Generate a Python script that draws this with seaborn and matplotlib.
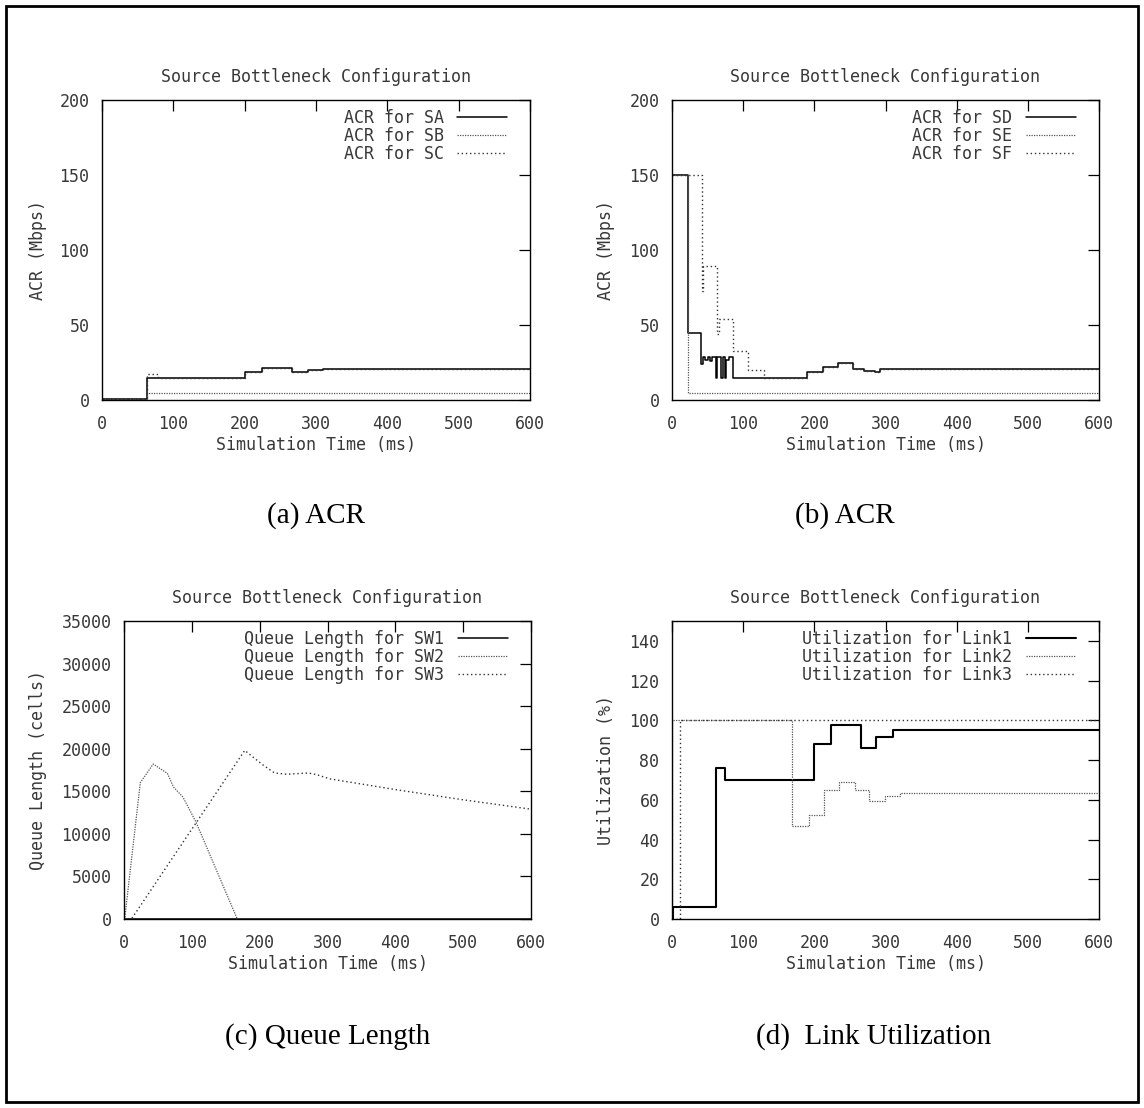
import matplotlib
matplotlib.use("Agg")
import matplotlib.pyplot as plt
import seaborn as sns
import pandas as pd
from matplotlib.patches import Rectangle

# ---------------- data (time in ms) ----------------
# (a) ACR of sources SA, SB, SC (Mbps)
t_sa = [0, 63, 200, 224, 266, 289, 310, 600]
acr_sa = [1, 15, 19, 21.5, 19, 20, 21, 21]
t_sb = [0, 63, 600]
acr_sb = [1, 5, 5]
t_sc = [0, 63, 79, 200, 224, 266, 289, 310, 600]
acr_sc = [1, 17.5, 15, 19, 21.5, 19, 20, 21, 21]

# (b) ACR of sources SD, SE, SF (Mbps)
t_sd = [0, 22, 41, 43, 47, 50, 53, 56, 62, 63.5, 69.5, 71, 74, 75.5, 80, 86,
        190, 212, 233, 254, 270, 285, 292, 600]
acr_sd = [150, 44.5, 24, 29, 27, 29, 26, 29, 15, 29, 15, 29, 15, 27, 29, 15,
          19, 22, 24.5, 21, 19.5, 19, 21, 21]
t_se = [0, 22, 600]
acr_se = [150, 5, 5]
t_sf = [0, 42, 44, 63, 66, 86, 107, 129, 190, 212, 233, 254, 270, 285, 292, 600]
acr_sf = [150, 73, 89.5, 44, 54, 32.5, 19.7, 15, 19, 22, 24.5, 21, 19.5, 19, 21, 21]

# (c) queue length (cells)
t_sw1 = [0, 600]
q_sw1 = [0, 0]
t_sw2 = [0, 1, 24, 43, 64, 73, 87, 106, 167, 600]
q_sw2 = [0, 0, 16000, 18200, 17100, 15500, 14300, 11400, 0, 0]
t_sw3 = [0, 11, 178, 203, 222, 240, 272, 284, 304, 400, 500, 600]
q_sw3 = [0, 0, 19800, 18200, 17150, 17000, 17150, 16950, 16450, 15200, 14000, 12900]

# (d) link utilization (%)
t_l1 = [0, 1, 62, 74.5, 199.5, 223, 265, 287, 311, 600]
u_l1 = [0, 6, 75.9, 70.2, 88, 97.4, 86, 91.8, 95.2, 95.2]
t_l2 = [0, 0.5, 168, 192, 213, 234, 257, 277, 299, 320, 600]
u_l2 = [0, 100, 47, 52.5, 65, 69, 65, 59.5, 62, 63.5, 63.5]
t_l3 = [0, 11, 600]
u_l3 = [0, 100, 100]

# ---------------- styling ----------------
W, H, DPI = 1144, 1108, 100
sns.set_theme(style="white")
plt.rcParams["font.family"] = ["DejaVu Sans Mono"]
plt.rcParams["text.color"] = "#383838"
plt.rcParams["axes.labelcolor"] = "#383838"
plt.rcParams["xtick.color"] = "black"
plt.rcParams["ytick.color"] = "black"
plt.rcParams["xtick.labelcolor"] = "#383838"
plt.rcParams["ytick.labelcolor"] = "#383838"

FS = 12
SOLID = dict(color="black", lw=1.1, ls="-")
DENSE = dict(color="#555555", lw=0.9, ls=(0, (1, 1)))
DOTTED = dict(color="#333333", lw=1.0, ls=(0, (1, 2)))

fig = plt.figure(figsize=(W / DPI, H / DPI), dpi=DPI)


def px_axes(left, top, right, bottom):
    ax = fig.add_axes([left / W, 1 - bottom / H, (right - left) / W, (bottom - top) / H])
    ax._px = (right - left, bottom - top)
    return ax


def panel(ax, series, ylim, yticks, ylabel, ylab_off, step=True):
    for label, t, v, style in series:
        df = pd.DataFrame({"t": t, "v": v})
        kw = dict(style)
        if step:
            kw["drawstyle"] = "steps-post"
        sns.lineplot(data=df, x="t", y="v", ax=ax, label=label, estimator=None,
                     sort=False, **kw)
    wpx, hpx = ax._px
    ax.set_xlim(0, 600)
    ax.set_ylim(*ylim)
    ax.set_xticks(range(0, 601, 100))
    ax.set_yticks(yticks)
    ax.tick_params(direction="in", length=8, width=0.9, top=True, right=True,
                   labelsize=FS, pad=9)
    ax.tick_params(axis="x", pad=11)
    for s in ax.spines.values():
        s.set_color("black")
        s.set_linewidth(1.0)
    ax.set_xlabel("Simulation Time (ms)", fontsize=FS)
    ax.xaxis.set_label_coords(0.5, -36 / hpx)
    ax.set_ylabel(ylabel, fontsize=FS)
    ax.yaxis.set_label_coords(-(ylab_off - 7) / wpx, 0.5)
    ax.set_title("Source Bottleneck Configuration", fontsize=FS, pad=13, color="#383838")
    leg = ax.legend(loc="upper right", bbox_to_anchor=(1 - 14 / wpx, 1),
                    frameon=False, markerfirst=False,
                    fontsize=FS, handlelength=3.0, handletextpad=0.8,
                    labelspacing=0.0, borderaxespad=0.3, borderpad=0.25)
    for txt in leg.get_texts():
        txt.set_color("#383838")


ax_a = px_axes(102, 100, 530, 400)
panel(ax_a, [("ACR for SA", t_sa, acr_sa, SOLID),
             ("ACR for SB", t_sb, acr_sb, DENSE),
             ("ACR for SC", t_sc, acr_sc, DOTTED)],
      (0, 200), range(0, 201, 50), "ACR (Mbps)", 62)

ax_b = px_axes(672, 100, 1099, 400)
panel(ax_b, [("ACR for SD", t_sd, acr_sd, SOLID),
             ("ACR for SE", t_se, acr_se, DENSE),
             ("ACR for SF", t_sf, acr_sf, DOTTED)],
      (0, 200), range(0, 201, 50), "ACR (Mbps)", 64)

ax_c = px_axes(124, 621, 531, 919)
panel(ax_c, [("Queue Length for SW1", t_sw1, q_sw1, SOLID),
             ("Queue Length for SW2", t_sw2, q_sw2, DENSE),
             ("Queue Length for SW3", t_sw3, q_sw3, DOTTED)],
      (0, 35000), range(0, 35001, 5000), "Queue Length (cells)", 84, step=False)

ax_d = px_axes(672, 621, 1099, 919)
SOLID_BOLD = dict(SOLID, lw=1.5)
panel(ax_d, [("Utilization for Link1", t_l1, u_l1, SOLID_BOLD),
             ("Utilization for Link2", t_l2, u_l2, DENSE),
             ("Utilization for Link3", t_l3, u_l3, DOTTED)],
      (0, 150), range(0, 141, 20), "Utilization (%)", 64)

# sub-figure captions
cap = dict(fontsize=21, family="Liberation Serif", color="black", ha="center", va="center")
fig.text(316 / W, 1 - 516 / H, "(a) ACR", **cap)
fig.text(845 / W, 1 - 516 / H, "(b) ACR", **cap)
fig.text(328 / W, 1 - 1037 / H, "(c) Queue Length", **cap)
fig.text(874 / W, 1 - 1037 / H, "(d)  Link Utilization", **cap)

# outer frame
fig.patches.append(Rectangle((6 / W, 6 / H), (W - 12) / W, (H - 12) / H,
                             transform=fig.transFigure, fill=False,
                             edgecolor="black", lw=2.0))

fig.savefig("out.png", dpi=DPI)
